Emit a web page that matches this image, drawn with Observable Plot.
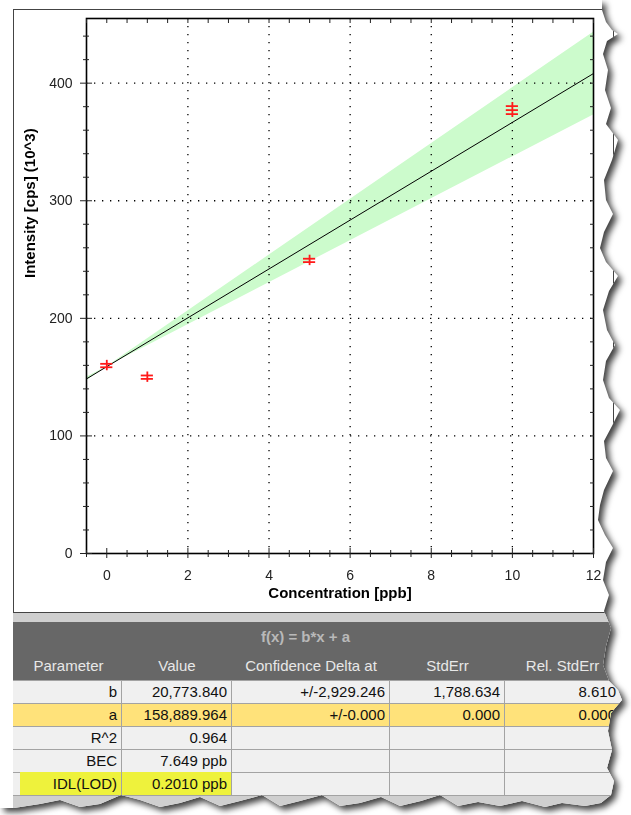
<!DOCTYPE html>
<html><head><meta charset="utf-8">
<script src="https://cdn.jsdelivr.net/npm/d3@7"></script>
<script src="https://cdn.jsdelivr.net/npm/@observablehq/plot@0.6"></script>
<style>
body{margin:0;background:#fff;font-family:"Liberation Sans",Arial,sans-serif;}
#wrap{position:absolute;left:0;top:0;width:631px;height:815px;filter:drop-shadow(4px 4px 3px rgba(0,0,0,.75));}
#paper{position:absolute;left:0;top:0;width:631px;height:815px;background:#fff;overflow:hidden;}
#panel{position:absolute;left:13px;top:9px;width:601px;height:604px;border:1.5px solid #444;box-sizing:border-box;}
#chart{position:absolute;left:0;top:0;}
#tbl{position:absolute;left:13px;top:613px;width:640px;height:202px;background:#cfcfcf;}
.c{position:absolute;box-sizing:border-box;white-space:nowrap;font-size:15px;line-height:23px;}
</style></head>
<body>
<div id="wrap"><div id="paper">
<div id="panel"></div>
<div id="chart"></div>
<div id="tbl"></div>
</div></div>
<script>
// ---- data ----
const concentration = [0, 1, 5, 10];
const replicates = [[158.4, 161.3], [148.5, 151.4], [247.8, 250.7], [373.7, 377.1, 380.5]];
const fitX = [-0.5, 0, 12];
const fitY = [148.5, 158.9, 408.2];
const bandLow = [147.0, 158.9, 373.0];
const bandHigh = [150.0, 158.9, 443.4];
const xTicks = [0, 2, 4, 6, 8, 10, 12];
const yTicks = [0, 100, 200, 300, 400];
const xLabel = "Concentration [ppb]";
const yLabel = "Intensity [cps] (10^3)";
const formula = "f(x) = b*x + a";
const headers = ["Parameter", "Value", "Confidence Delta at", "StdErr", "Rel. StdErr"];
const paramNames = ["b", "a", "R^2", "BEC", "IDL(LOD)"];
const paramValues = ["20,773.840", "158,889.964", "0.964", "7.649 ppb", "0.2010 ppb"];
const confDelta = ["+/-2,929.246", "+/-0.000", "", "", ""];
const stdErr = ["1,788.634", "0.000", "", "", ""];
const relStdErr = ["8.610", "0.000", "", "", ""];

// ---- chart ----
const band = fitX.map((x, i) => ({x, lo: bandLow[i], hi: bandHigh[i]}));
const fit = fitX.map((x, i) => ({x, y: fitY[i]}));
const bars = concentration.flatMap((x, i) => replicates[i].map(y => ({x, y})));
const stems = concentration.map((x, i) => ({x, top: d3.max(replicates[i]), bottom: d3.min(replicates[i])}));
const xMinor = d3.range(-0.5, 12.01, 0.5).filter(v => !xTicks.includes(v));
const yMinor = d3.range(0, 456, 20).filter(v => !yTicks.includes(v));
const xGrid = xTicks.filter(v => v > 0 && v < 12);
const yGrid = yTicks.filter(v => v > 0);
const blank = () => "";
const red = "#ff1a1a";

const plot = Plot.plot({
  width: 631, height: 613,
  marginLeft: 86, marginRight: 38, marginTop: 18, marginBottom: 60,
  x: {domain: [-0.5, 12]},
  y: {domain: [0, 455]},
  style: {fontFamily: "Liberation Sans, Arial, sans-serif", background: "transparent", color: "#222"},
  marks: [
    Plot.areaY(band, {x: "x", y1: "lo", y2: "hi", fill: "#ccfbcc"}),
    Plot.gridX(xGrid, {stroke: "#000", strokeOpacity: 1, strokeWidth: 1.3, strokeDasharray: "1.3,6.7"}),
    Plot.gridY(yGrid, {stroke: "#000", strokeOpacity: 1, strokeWidth: 1.3, strokeDasharray: "1.3,6.7"}),
    Plot.line(fit, {x: "x", y: "y", stroke: "#000", strokeWidth: 1}),
    Plot.ruleX(stems, {x: "x", y1: "top", y2: "bottom", stroke: red, strokeWidth: 1.8, insetTop: -3.5, insetBottom: -3.5}),
    Plot.ruleY(bars, {y: "y", x1: d => d.x - 0.15, x2: d => d.x + 0.15, stroke: red, strokeWidth: 1.8}),
    Plot.frame({stroke: "#000", strokeWidth: 1.6}),
    // left axis
    Plot.axisY(yTicks, {anchor: "left", tickSize: 0, tickPadding: 14, fontSize: 14, label: null}),
    Plot.axisY(yTicks, {anchor: "left", tickSize: 12, dx: 6, tickFormat: blank, label: null}),
    Plot.axisY(yMinor, {anchor: "left", tickSize: 6, dx: 3, tickFormat: blank, label: null}),
    // right axis (inward)
    Plot.axisY(yTicks.concat(yMinor), {anchor: "right", tickSize: 4, dx: -4, tickFormat: blank, label: null}),
    // bottom axis
    Plot.axisX(xTicks, {anchor: "bottom", tickSize: 0, tickPadding: 17, fontSize: 14, label: null}),
    Plot.axisX(xTicks, {anchor: "bottom", tickSize: 10, dy: -5, tickFormat: blank, label: null}),
    Plot.axisX(xMinor, {anchor: "bottom", tickSize: 7, dy: -3, tickFormat: blank, label: null}),
    // top axis (inward)
    Plot.axisX(xTicks.concat(xMinor), {anchor: "top", tickSize: 4, dy: 4, tickFormat: blank, label: null}),
    Plot.text([yLabel], {frameAnchor: "left", rotate: -90, dx: -56, dy: -8, text: d => d, fontSize: 15, fontWeight: "bold", fill: "#000"}),
    Plot.text([xLabel], {frameAnchor: "bottom", dy: 44, text: d => d, fontSize: 15, fontWeight: "bold", fill: "#000"})
  ]
});
document.getElementById("chart").append(plot);

// ---- table ----
const tbl = document.getElementById("tbl");
function cell(left, top, w, h, txt, style) {
  const d = document.createElement("div");
  d.className = "c";
  d.style.left = left + "px"; d.style.top = top + "px";
  d.style.width = w + "px"; d.style.height = h + "px";
  d.textContent = txt;
  Object.assign(d.style, style || {});
  tbl.append(d);
  return d;
}
const edges = [2, 109, 219, 377, 492, 607];
// dark header block
cell(0, 9, 640, 58, "", {background: "#676767"});
cell(0, 13, 585, 22, formula, {textAlign: "center", color: "#b9b9b9", fontWeight: "bold", lineHeight: "22px"});
headers.forEach((h, j) => cell(edges[j], 42, edges[j + 1] - edges[j], 22, h, {textAlign: "center", color: "#e8e8e8", lineHeight: "22px"}));
// data rows
const cols = [paramNames, paramValues, confDelta, stdErr, relStdErr];
paramNames.forEach((p, i) => {
  const top = 67 + i * 23;
  const bg = i === 1 ? "#ffe27a" : "#f0f0f0";
  cell(0, top, 640, 23, "", {background: bg, borderTop: "1px solid #a3a3a3"});
  cols.forEach((col, j) => {
    const st = {textAlign: "right", paddingRight: "4px", color: "#111", borderRight: j < 4 ? "1px solid #a3a3a3" : "none"};
    if (i === 4 && j < 2) st.background = "#eef23c";
    const l = (i === 4 && j === 0) ? edges[j] + 5 : edges[j];
    cell(l, top, edges[j + 1] - l, 23, col[i], st);
  });
});
cell(0, 182, 640, 1, "", {background: "#a3a3a3"});

// torn edge (decorative)
const tear = [
  [0,0],[602,0],[602,10],[606,22],[612,30],[618,34],[607,41],[603,54],[608,70],[605,90],[611,108],[606,124],[618,140],[612,160],[604,180],[606,200],[613,214],[604,232],[600,248],[606,262],[618,276],[609,291],[603,310],[607,330],[615,345],[606,361],[603,380],[609,398],[620,410],[612,426],[604,441],[606,458],[613,471],[604,490],[600,505],[598,520],[605,535],[613,548],[606,562],[603,580],[609,595],[604,611],[611,628],[606,646],[603,665],[609,681],[618,690],[622,700],[611,713],[608,731],[612,750],[607,768],[614,781],[611,795],[601,803],
  [585,806],[562,803],[545,807],[522,801],[500,806],[478,802],[458,806],[440,795],[421,801],[400,806],[381,797],[360,803],[340,806],[322,795],[300,801],[280,806],[262,795],[240,801],[220,806],[200,797],[180,803],[160,807],[140,800],[121,795],[100,804],[80,807],[60,800],[40,804],[14,808],[0,808]
];
document.getElementById("paper").style.clipPath = "polygon(" + tear.map(([a, b]) => a + "px " + b + "px").join(",") + ")";
</script>
</body></html>
